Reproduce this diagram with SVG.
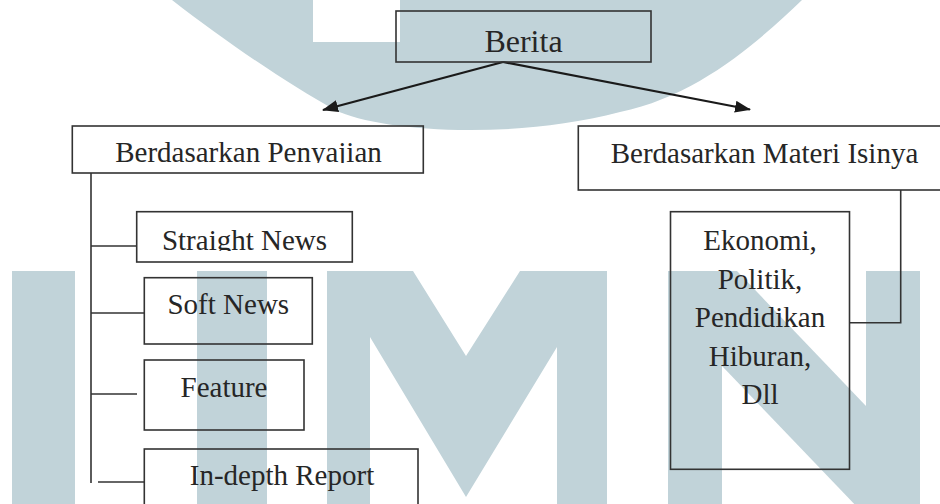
<svg xmlns="http://www.w3.org/2000/svg" width="940" height="504" viewBox="0 0 940 504">
<style>
.wm{fill:#c1d3d9}
.box{fill:none;stroke:#333;stroke-width:1.6}
.ln{fill:none;stroke:#333;stroke-width:1.6}
.arr{fill:none;stroke:#1a1a1a;stroke-width:2.2}
.t{font-family:"Liberation Serif","Times New Roman",serif;font-size:29px;fill:#262626;text-anchor:middle}
.big{font-size:32px}
</style>
<defs>
<marker id="ah" viewBox="0 0 16 12" refX="15" refY="6" markerWidth="16" markerHeight="12" markerUnits="userSpaceOnUse" orient="auto">
<path d="M0,0 L16,6 L0,12 Z" fill="#1a1a1a"/>
</marker>
<clipPath id="clipPen"><rect x="72" y="126" width="352" height="37"/></clipPath>
<clipPath id="clipStr"><rect x="137" y="212" width="216" height="39"/></clipPath>
</defs>
<rect width="940" height="504" fill="#fff"/>
<g id="watermark">
<path class="wm" d="M172,0 L802,0 C760,40 700,95 620,112 C570,125 520,130 470,130 C410,130 360,122 335,110 C290,85 230,45 172,0 Z"/>
<rect x="313" y="0" width="87" height="42" fill="#fff"/>
<rect class="wm" x="12" y="271" width="63" height="240"/>
<rect class="wm" x="197" y="271" width="70" height="240"/>
<path class="wm" d="M327,271 L413,271 L466,356 L520,271 L607,271 L607,510 L557,510 L557,347 L466,497 L370,337 L370,510 L327,510 Z"/>
<rect class="wm" x="668" y="271" width="54" height="240"/>
<rect class="wm" x="866" y="271" width="54" height="240"/>
<path class="wm" d="M722,271 L737,271 L866,406 L866,510 L860,510 L722,366 Z"/>
</g>
<g id="connectors">
<line class="arr" x1="503" y1="62" x2="323" y2="110" marker-end="url(#ah)"/>
<line class="arr" x1="503" y1="62" x2="750" y2="109.5" marker-end="url(#ah)"/>
<line class="ln" x1="91" y1="173" x2="91" y2="483"/>
<line class="ln" x1="91" y1="246" x2="137" y2="246"/>
<line class="ln" x1="91" y1="313" x2="144" y2="313"/>
<line class="ln" x1="91" y1="394" x2="137" y2="394"/>
<line class="ln" x1="98" y1="482" x2="144" y2="482"/>
<polyline class="ln" points="900.7,190 900.7,322.7 850,322.7"/>
</g>
<g id="berita">
<rect class="box" x="396" y="11" width="255" height="51"/>
<text class="t big" x="523.5" y="52">Berita</text>
</g>
<g id="penyajian">
<rect class="box" x="72.3" y="126" width="351" height="47"/>
<text class="t" x="248.5" y="161.7" clip-path="url(#clipPen)">Berdasarkan Penyajian</text>
</g>
<g id="materi">
<rect class="box" x="578.3" y="126" width="372" height="64"/>
<text class="t" x="764.5" y="162.7">Berdasarkan Materi Isinya</text>
</g>
<g id="straight">
<rect class="box" x="136.7" y="211.7" width="215.6" height="50.3"/>
<text class="t" x="244.5" y="250" clip-path="url(#clipStr)">Straight News</text>
</g>
<g id="soft">
<rect class="box" x="144.3" y="277.7" width="168" height="66.3"/>
<text class="t" x="228.3" y="314.3">Soft News</text>
</g>
<g id="feature">
<rect class="box" x="144.3" y="360" width="159.7" height="70"/>
<text class="t" x="224" y="396.7">Feature</text>
</g>
<g id="indepth">
<rect class="box" x="144.3" y="449" width="273.7" height="80"/>
<text class="t" x="282" y="485">In-depth Report</text>
</g>
<g id="ekonomi">
<rect class="box" x="670.5" y="211.7" width="179" height="257.6"/>
<text class="t" x="760" y="250">Ekonomi,</text>
<text class="t" x="760" y="288.5">Politik,</text>
<text class="t" x="760" y="327">Pendidikan</text>
<text class="t" x="760" y="365.5">Hiburan,</text>
<text class="t" x="760" y="404">Dll</text>
</g>
</svg>
